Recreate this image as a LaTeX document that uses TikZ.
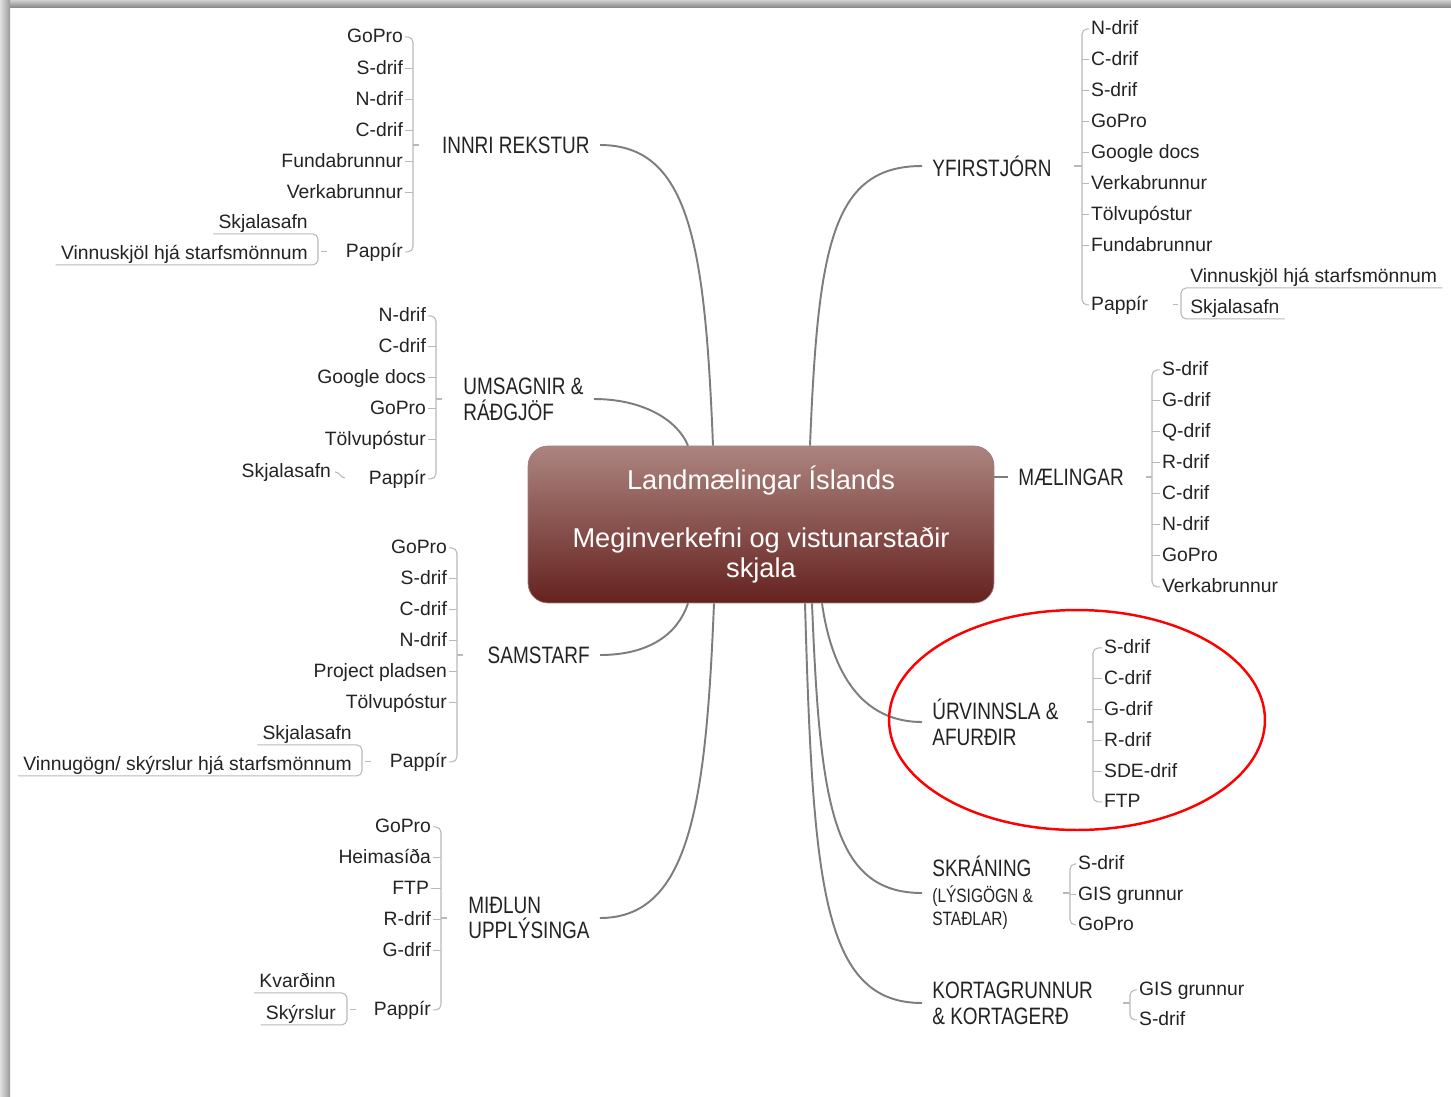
\documentclass[tikz,border=0pt]{standalone}
\usepackage{fontspec}
\setmainfont{Liberation Sans}
\newfontfamily\topicfont[FakeStretch=0.8]{Liberation Sans}
\newcommand\leaffont{\fontsize{11}{13}\selectfont}
\newcommand\topicsize{\topicfont\fontsize{13.5}{14.7}\selectfont}
\newcommand\subtopicsize{\fontsize{11}{13}\selectfont}
\definecolor{hubtop}{RGB}{172,132,127}
\definecolor{hubdark}{RGB}{101,34,31}
\definecolor{ink}{RGB}{35,35,35}
\definecolor{twigc}{RGB}{185,185,185}
\definecolor{branchc}{RGB}{125,125,125}

\begin{document}
\begin{tikzpicture}[x=0.02cm, y=-0.02cm,
  hub/.style={rounded corners=0.4cm, minimum width=9.32cm, minimum height=3.14cm,
    top color=hubtop, middle color=hubdark, bottom color=hubdark, draw=hubdark!60!white,
    text=white, align=center, font=\fontsize{15.5}{17}\selectfont},
  topic/.style={inner xsep=0.2cm, inner ysep=0pt, align=left, text=ink, font=\topicsize},
  leafL/.style={anchor=east, yshift=-1.1pt, inner xsep=1pt, inner ysep=0.8pt, text height=8.5pt, text depth=2pt, text=ink, font=\leaffont},
  leafR/.style={leafL, anchor=west},
  subL/.style={leafL, inner xsep=2.8pt},
  subR/.style={subL, anchor=west},
  branch/.style={draw=branchc, line width=1.1pt},
  twig/.style={draw=twigc, line width=0.6pt},
  bracket/.style={twig, rounded corners=3pt}]
\useasboundingbox (0,0) rectangle (1451,1096);
\fill[white] (0,0) rectangle (1451,1096);
\shade[top color=black!18, bottom color=black!45] (0,0) rectangle (1451,7);
\shade[left color=black!12, right color=black!40] (0,0) rectangle (10,1096);

% centre
\node[hub] (hub) at (761,524.5) {Landmælingar Íslands\\[16pt]Meginverkefni og vistunarstaðir\\skjala};

% main topics
\node[topic, anchor=east] (ir) at (600,145) {INNRI REKSTUR};
\node[topic, anchor=west] (us) at (453,399) {UMSAGNIR \&\\RÁÐGJÖF};
\node[topic, anchor=east] (sa) at (600,655) {SAMSTARF};
\node[topic, anchor=west] (mi) at (458,918) {MIÐLUN\\UPPLÝSINGA};
\node[topic, anchor=west] (yf) at (922,166) {YFIRSTJÓRN};
\node[topic, anchor=west] (ma) at (1008,477) {MÆLINGAR};
\node[topic, anchor=west] (ur) at (922,722) {ÚRVINNSLA \&\\AFURÐIR};
\node[topic, anchor=west] (sk) at (922,893) {SKRÁNING\\{\subtopicsize(LÝSIGÖGN \&}\\[-1.5pt]{\subtopicsize STAÐLAR)}};
\node[topic, anchor=west] (ko) at (922,1003) {KORTAGRUNNUR\\\& KORTAGERÐ};

\draw[branch] (hub.north) ++(-48,0) .. controls +(-8,-200) and +(90,0) .. (ir.east);
\draw[branch] (hub.north) ++(-73,0) .. controls +(-10,-25) and +(50,0) .. (us.east);
\draw[branch] (hub.south) ++(-73,0) .. controls +(-10,30) and +(50,0) .. (sa.east);
\draw[branch] (hub.south) ++(-47,0) .. controls +(-8,200) and +(90,0) .. (mi.east);
\draw[branch] (hub.north) ++(49,0) .. controls +(8,-200) and +(-90,0) .. (yf.west);
\draw[branch] (hub.east |- ma.west) -- (ma.west);
\draw[branch] (hub.south) ++(61,0) .. controls +(10,70) and +(-60,0) .. (ur.west);
\draw[branch] (hub.south) ++(51,0) .. controls +(8,200) and +(-90,0) .. (sk.west);
\draw[branch] (hub.south) ++(44,0) .. controls +(8,280) and +(-100,0) .. (ko.west);

% INNRI REKSTUR
\coordinate (irb) at (413,0);
\coordinate (irsb) at (318,0);
\node[leafL] (ir1) at (405,35) {GoPro};
\node[leafL] (ir2) at (405,67) {S-drif};
\node[leafL] (ir3) at (405,98) {N-drif};
\node[leafL] (ir4) at (405,129) {C-drif};
\node[leafL] (ir5) at (405,160) {Fundabrunnur};
\node[leafL] (ir6) at (405,191) {Verkabrunnur};
\node[leafL] (ir7) at (405,250) {Pappír};
\node[subL] (irs1) at (313,221) {Skjalasafn};
\node[subL] (irs2) at (313,252) {Vinnuskjöl hjá starfsmönnum};
\draw[twig] (irb |- ir.west) -- ++(6,0);
\draw[bracket] (ir1.east) -- (ir1.east -| irb) -- (ir7.east -| irb) -- (ir7.east);
\draw[twig] (ir2.east) -- (ir2.east -| irb) (ir3.east) -- (ir3.east -| irb) (ir4.east) -- (ir4.east -| irb)
  (ir5.east) -- (ir5.east -| irb) (ir6.east) -- (ir6.east -| irb);
\draw[bracket] (irs1.south west) -- (irs1.south west -| irsb) -- (irs2.south west -| irsb) -- (irs2.south west);
\draw[twig] (irsb |- ir7.west) ++(3,0) -- ++(6,0);

% UMSAGNIR & RADGJOF
\coordinate (usb) at (436,0);
\node[leafL] (us1) at (428,314) {N-drif};
\node[leafL] (us2) at (428,345) {C-drif};
\node[leafL] (us3) at (428,376) {Google docs};
\node[leafL] (us4) at (428,407) {GoPro};
\node[leafL] (us5) at (428,438) {Tölvupóstur};
\node[leafL] (us6) at (428,477) {Pappír};
\node[leafL] (us7) at (333,470) {Skjalasafn};
\draw[twig] (usb |- us.west) -- ++(6,0);
\draw[bracket] (us1.east) -- (us1.east -| usb) -- (us6.east -| usb) -- (us6.east);
\draw[twig] (us2.east) -- (us2.east -| usb) (us3.east) -- (us3.east -| usb) (us4.east) -- (us4.east -| usb)
  (us5.east) -- (us5.east -| usb);
\draw[twig] (us7.east) ++(2,0) to[out=0,in=180] ++(10,6);

% SAMSTARF
\coordinate (sab) at (457,0);
\coordinate (sasb) at (362,0);
\node[leafL] (sa1) at (449,546) {GoPro};
\node[leafL] (sa2) at (449,577) {S-drif};
\node[leafL] (sa3) at (449,608) {C-drif};
\node[leafL] (sa4) at (449,639) {N-drif};
\node[leafL] (sa5) at (449,670) {Project pladsen};
\node[leafL] (sa6) at (449,701) {Tölvupóstur};
\node[leafL] (sa7) at (449,760) {Pappír};
\node[subL] (sas1) at (357,732) {Skjalasafn};
\node[subL] (sas2) at (357,763) {Vinnugögn/ skýrslur hjá starfsmönnum};
\draw[twig] (sab |- sa.west) -- ++(6,0);
\draw[bracket] (sa1.east) -- (sa1.east -| sab) -- (sa7.east -| sab) -- (sa7.east);
\draw[twig] (sa2.east) -- (sa2.east -| sab) (sa3.east) -- (sa3.east -| sab) (sa4.east) -- (sa4.east -| sab)
  (sa5.east) -- (sa5.east -| sab) (sa6.east) -- (sa6.east -| sab);
\draw[bracket] (sas1.south west) -- (sas1.south west -| sasb) -- (sas2.south west -| sasb) -- (sas2.south west);
\draw[twig] (sasb |- sa7.west) ++(3,0) -- ++(6,0);

% MIDLUN UPPLYSINGA
\coordinate (mib) at (441,0);
\coordinate (misb) at (347,0);
\node[leafL] (mi1) at (433,825) {GoPro};
\node[leafL] (mi2) at (433,856) {Heimasíða};
\node[leafL] (mi3) at (431,887) {FTP};
\node[leafL] (mi4) at (433,918) {R-drif};
\node[leafL] (mi5) at (433,949) {G-drif};
\node[leafL] (mi6) at (433,1008) {Pappír};
\node[subL] (mis1) at (341,980) {Kvarðinn};
\node[subL] (mis2) at (341,1012) {Skýrslur};
\draw[twig] (mib |- mi.west) -- ++(6,0);
\draw[bracket] (mi1.east) -- (mi1.east -| mib) -- (mi6.east -| mib) -- (mi6.east);
\draw[twig] (mi2.east) -- (mi2.east -| mib) (mi3.east) -- (mi3.east -| mib) (mi4.east) -- (mi4.east -| mib)
  (mi5.east) -- (mi5.east -| mib);
\draw[bracket] (mis1.south west) -- (mis1.south west -| misb) -- (mis2.south west -| misb) -- (mis2.south west);
\draw[twig] (misb |- mi6.west) ++(3,0) -- ++(6,0);

% YFIRSTJORN
\coordinate (yfb) at (1082,0);
\coordinate (yfsb) at (1181,0);
\node[leafR] (yf1) at (1089,27) {N-drif};
\node[leafR] (yf2) at (1089,58) {C-drif};
\node[leafR] (yf3) at (1089,89) {S-drif};
\node[leafR] (yf4) at (1089,120) {GoPro};
\node[leafR] (yf5) at (1089,151) {Google docs};
\node[leafR] (yf6) at (1089,182) {Verkabrunnur};
\node[leafR] (yf7) at (1089,213) {Tölvupóstur};
\node[leafR] (yf8) at (1089,244) {Fundabrunnur};
\node[leafR] (yf9) at (1089,303) {Pappír};
\node[subR] (yfs1) at (1185,275) {Vinnuskjöl hjá starfsmönnum};
\node[subR] (yfs2) at (1185,306) {Skjalasafn};
\draw[twig] (yfb |- yf.east) -- ++(-8,0);
\draw[bracket] (yf1.west) -- (yf1.west -| yfb) -- (yf9.west -| yfb) -- (yf9.west);
\draw[twig] (yf2.west) -- (yf2.west -| yfb) (yf3.west) -- (yf3.west -| yfb) (yf4.west) -- (yf4.west -| yfb)
  (yf5.west) -- (yf5.west -| yfb) (yf6.west) -- (yf6.west -| yfb) (yf7.west) -- (yf7.west -| yfb)
  (yf8.west) -- (yf8.west -| yfb);
\draw[bracket] (yfs1.south east) -- (yfs1.south east -| yfsb) -- (yfs2.south east -| yfsb) -- (yfs2.south east);
\draw[twig] (yfsb |- yf9.east) ++(-8,0) -- ++(5,0);

% MAELINGAR
\coordinate (mab) at (1152,0);
\node[leafR] (ma1) at (1160,368) {S-drif};
\node[leafR] (ma2) at (1160,399) {G-drif};
\node[leafR] (ma3) at (1160,430) {Q-drif};
\node[leafR] (ma4) at (1160,461) {R-drif};
\node[leafR] (ma5) at (1160,492) {C-drif};
\node[leafR] (ma6) at (1160,523) {N-drif};
\node[leafR] (ma7) at (1160,554) {GoPro};
\node[leafR] (ma8) at (1160,585) {Verkabrunnur};
\draw[twig] (mab |- ma.east) -- ++(-6,0);
\draw[bracket] (ma1.west) -- (ma1.west -| mab) -- (ma8.west -| mab) -- (ma8.west);
\draw[twig] (ma2.west) -- (ma2.west -| mab) (ma3.west) -- (ma3.west -| mab) (ma4.west) -- (ma4.west -| mab)
  (ma5.west) -- (ma5.west -| mab) (ma6.west) -- (ma6.west -| mab) (ma7.west) -- (ma7.west -| mab);

% URVINNSLA & AFURDIR
\coordinate (urb) at (1093,0);
\node[leafR] (ur1) at (1102,646) {S-drif};
\node[leafR] (ur2) at (1102,677) {C-drif};
\node[leafR] (ur3) at (1102,708) {G-drif};
\node[leafR] (ur4) at (1102,739) {R-drif};
\node[leafR] (ur5) at (1102,770) {SDE-drif};
\node[leafR] (ur6) at (1102,800) {FTP};
\draw[twig] (urb |- ur.east) -- ++(-6,0);
\draw[bracket] (ur1.west) -- (ur1.west -| urb) -- (ur6.west -| urb) -- (ur6.west);
\draw[twig] (ur2.west) -- (ur2.west -| urb) (ur3.west) -- (ur3.west -| urb) (ur4.west) -- (ur4.west -| urb)
  (ur5.west) -- (ur5.west -| urb);
\draw[red, line width=1.4pt] (1077,720) ellipse [x radius=3.76cm, y radius=2.2cm];

% SKRANING
\coordinate (skb) at (1070,0);
\node[leafR] (sk1) at (1076,862) {S-drif};
\node[leafR] (sk2) at (1076,893) {GIS grunnur};
\node[leafR] (sk3) at (1076,923) {GoPro};
\draw[twig] (skb |- sk.east) -- ++(-7,0);
\draw[bracket] (sk1.west) -- (sk1.west -| skb) -- (sk3.west -| skb) -- (sk3.west);
\draw[twig] (sk2.west) -- (sk2.west -| skb);

% KORTAGRUNNUR
\coordinate (kob) at (1130,0);
\node[leafR] (ko1) at (1137,988) {GIS grunnur};
\node[leafR] (ko2) at (1137,1018) {S-drif};
\draw[twig] (kob |- ko.east) -- ++(-7,0);
\draw[bracket] (ko1.west) -- (ko1.west -| kob) -- (ko2.west -| kob) -- (ko2.west);
\end{tikzpicture}
\end{document}
